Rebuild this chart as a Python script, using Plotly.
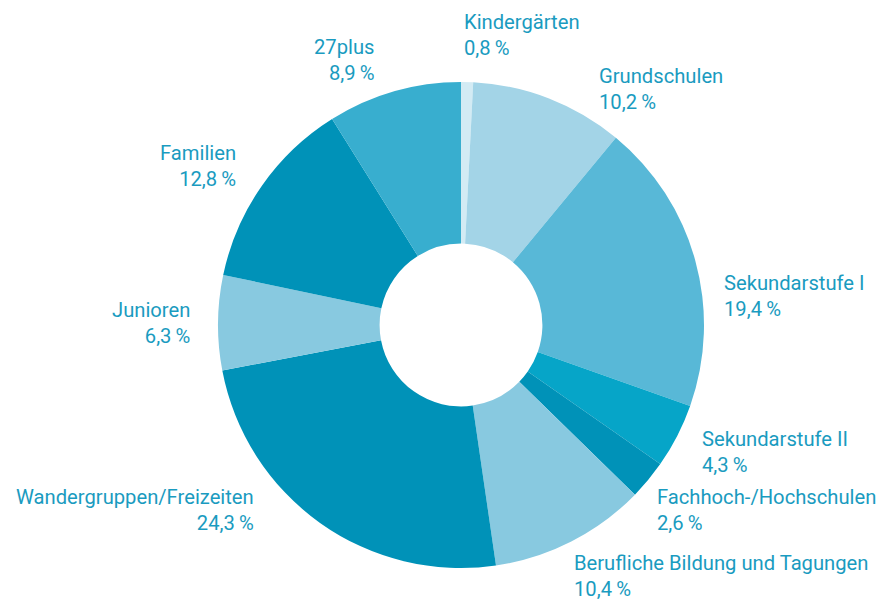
import plotly.graph_objects as go

OFF = 8  # page body margin in the browser
W, H = 885 - 2 * OFF, 608 - 2 * OFF

categories = ["Kindergärten", "Grundschulen", "Sekundarstufe I", "Sekundarstufe II",
              "Fachhoch-/Hochschulen", "Berufliche Bildung und Tagungen",
              "Wandergruppen/Freizeiten", "Junioren", "Familien", "27plus"]
shares = [0.8, 10.2, 19.4, 4.3, 2.6, 10.4, 24.3, 6.3, 12.8, 8.9]

colors = ["#d3ebf4", "#a3d4e7", "#58b8d7", "#06a5c8", "#0092b8",
          "#88c9e0", "#0092b8", "#88c9e0", "#0092b8", "#38aecf"]

# label placement (pixel anchor x, block centre y, anchor side)
label_pos = [(462, 35, "left"), (597, 89, "left"), (722, 296, "left"),
             (700, 452, "left"), (655, 510, "left"), (572, 576, "left"),
             (256, 510, "right"), (192, 323, "right"), (238, 166, "right"),
             (376, 60, "right")]

cx, cy, R = 461, 325, 243


def px_x(v):
    return (v - OFF) / W


def px_y(v):
    return 1 - (v - OFF) / H


fig = go.Figure(go.Pie(
    labels=categories, values=shares, sort=False, direction="clockwise",
    rotation=0, hole=0.335, textinfo="none", hoverinfo="label+percent",
    marker=dict(colors=colors, line=dict(width=0)),
    domain=dict(x=[px_x(cx - R), px_x(cx + R)], y=[px_y(cy + R), px_y(cy - R)]),
    showlegend=False,
))

for cat, val, (px, py, side) in zip(categories, shares, label_pos):
    txt = f"{cat}<br>{str(val).replace('.', ',')}\u2009%"
    fig.add_annotation(
        text=txt, x=px_x(px), y=px_y(py), xref="paper", yref="paper",
        xanchor=side, yanchor="middle", align=side, showarrow=False,
        font=dict(family="Roboto", size=20.2, color="#1a9bc0"),
    )

fig.update_layout(width=W, height=H, margin=dict(l=0, r=0, t=0, b=0),
                  paper_bgcolor="white", plot_bgcolor="white")
fig.write_html("out.html")
